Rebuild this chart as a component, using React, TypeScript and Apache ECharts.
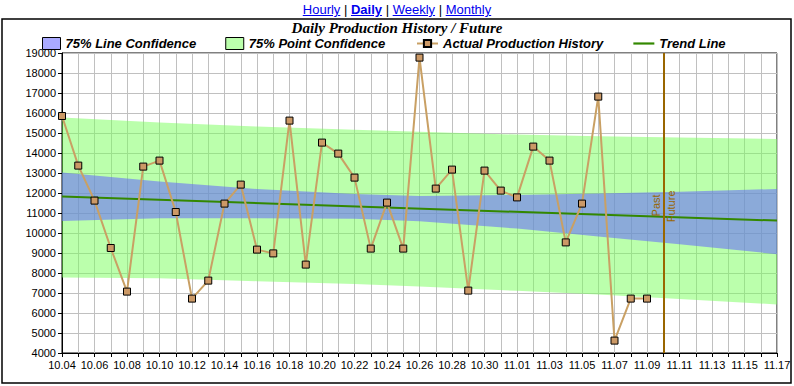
import React, { useEffect, useRef } from 'react';
import * as echarts from 'echarts';

const days = [
  '10.04', '10.05', '10.06', '10.07', '10.08', '10.09', '10.10', '10.11', '10.12', '10.13',
  '10.14', '10.15', '10.16', '10.17', '10.18', '10.19', '10.20', '10.21', '10.22', '10.23',
  '10.24', '10.25', '10.26', '10.27', '10.28', '10.29', '10.30', '10.31', '11.01', '11.02',
  '11.03', '11.04', '11.05', '11.06', '11.07', '11.08', '11.09', '11.10', '11.11', '11.12',
  '11.13', '11.14', '11.15', '11.16', '11.17',
];

const actualProduction = [
  15850, 13370, 11620, 9250, 7070, 13320, 13620, 11050, 6720, 7620,
  11470, 12420, 9170, 8980, 15620, 8420, 14520, 13970, 12770, 9220,
  11520, 9220, 18770, 12220, 13170, 7120, 13120, 12120, 11780, 14320,
  13620, 9530, 11470, 16820, 4620, 6720, 6720,
];

const trendDays = ['10.04', '11.17'];
const trendValues = [11820, 10620];

const bandDays = ['10.04', '10.10', '10.16', '10.22', '10.26', '11.01', '11.06', '11.11', '11.17'];
const lineConfUpper = [13030, 12570, 12200, 11950, 11850, 11900, 11970, 12060, 12200];
const lineConfLower = [10600, 10740, 10740, 10710, 10590, 10220, 9820, 9440, 8940];
const pointConfUpper = [15770, 15530, 15320, 15160, 15060, 14920, 14840, 14770, 14700];
const pointConfLower = [7780, 7740, 7590, 7450, 7330, 7110, 6920, 6700, 6430];

const markerDay = '11.10';
const markerLabelValue = 11380;

const yMin = 4000;
const yMax = 19000;
const yStep = 1000;

const SANS = '"Liberation Sans", Arial, sans-serif';
const SERIF = '"Liberation Serif", "Times New Roman", serif';

export default function App() {
  const ref = useRef<HTMLDivElement>(null);

  useEffect(() => {
    const chart = echarts.init(ref.current!, null, { renderer: 'svg' });
    const idx = (d: string) => days.indexOf(d);

    const band = (upper: number[], lower: number[], fill: string) => (_p: any, api: any) => {
      const pts: number[][] = [];
      for (let i = 0; i < bandDays.length; i++) pts.push(api.coord([idx(bandDays[i]), upper[i]]));
      for (let i = bandDays.length - 1; i >= 0; i--) pts.push(api.coord([idx(bandDays[i]), lower[i]]));
      return { type: 'polygon', shape: { points: pts }, style: { fill }, silent: true };
    };

    const greenFill = 'rgba(120,255,90,0.5)';
    const blueFill = 'rgba(100,100,255,0.55)';
    const brown = '#996600';
    const legendText = { fontFamily: SANS, fontSize: 13, fontWeight: 'bold', fontStyle: 'italic', color: '#000' };

    chart.setOption({
      animation: false,
      backgroundColor: '#fff',
      title: {
        text: 'Daily Production History / Future',
        left: 'center',
        top: 20,
        padding: 0,
        textStyle: { fontFamily: SERIF, fontSize: 15, fontWeight: 'bold', fontStyle: 'italic', color: '#000' },
      },
      legend: [
        {
          left: 42,
          top: 37,
          padding: 0,
          itemWidth: 18,
          itemHeight: 12,
          itemGap: 29,
          selectedMode: false,
          textStyle: legendText,
          data: [
            { name: '75% Line Confidence', icon: 'rect', itemStyle: { color: '#aaaaff', borderColor: '#000', borderWidth: 1 } },
            { name: '75% Point Confidence', icon: 'rect', itemStyle: { color: '#bbffac', borderColor: '#000', borderWidth: 1 } },
          ],
        },
        {
          left: 416,
          top: 37,
          padding: 0,
          itemWidth: 21,
          itemHeight: 9,
          itemGap: 30,
          selectedMode: false,
          textStyle: legendText,
          data: [
            { name: 'Actual Production History' },
            { name: 'Trend Line', icon: 'path://M0 0 H21 V2.2 H0 Z' },
          ],
        },
      ],
      grid: {
        left: 62,
        right: 17,
        top: 53,
        bottom: 33,
        show: true,
        borderColor: '#000',
        borderWidth: 1,
        backgroundColor: 'transparent',
      },
      xAxis: {
        type: 'category',
        data: days,
        boundaryGap: false,
        axisLine: { lineStyle: { color: '#000', width: 1 } },
        axisTick: { show: true, interval: 0, length: 4, lineStyle: { color: '#000' } },
        axisLabel: { interval: 1, margin: 6, color: '#000', fontFamily: SANS, fontSize: 11 },
        splitLine: { show: true, interval: 0, lineStyle: { color: '#c0c0c0', width: 1 } },
      },
      yAxis: {
        type: 'value',
        min: yMin,
        max: yMax,
        interval: yStep,
        axisLine: { show: true, lineStyle: { color: '#000', width: 1 } },
        axisTick: { show: true, length: 4, lineStyle: { color: '#000' } },
        axisLabel: {
          margin: 6,
          color: '#000',
          fontFamily: SANS,
          fontSize: 11,
          formatter: (v: number) => String(v),
        },
        splitLine: { show: true, lineStyle: { color: '#c0c0c0', width: 1 } },
      },
      graphic: [
        {
          type: 'rect',
          silent: true,
          shape: { x: 2, y: 19, width: 789, height: 364 },
          style: { fill: 'none', stroke: '#000', lineWidth: 1.5 },
        },
      ],
      series: [
        {
          name: '75% Point Confidence',
          type: 'custom',
          data: [[0, 10000]],
          itemStyle: { color: '#bbffac' },
          renderItem: band(pointConfUpper, pointConfLower, greenFill),
          silent: true,
          z: 1,
        },
        {
          name: '75% Line Confidence',
          type: 'custom',
          data: [[0, 10000]],
          itemStyle: { color: '#aaaaff' },
          renderItem: band(lineConfUpper, lineConfLower, blueFill),
          silent: true,
          z: 2,
        },
        {
          name: 'Trend Line',
          type: 'line',
          data: trendDays.map((d, i) => [d, trendValues[i]]),
          symbol: 'none',
          lineStyle: { color: '#338800', width: 2 },
          itemStyle: { color: '#338800' },
          silent: true,
          z: 3,
          markLine: {
            silent: true,
            symbol: ['none', 'none'],
            label: { show: false },
            lineStyle: { color: brown, width: 2, type: 'solid' },
            data: [{ xAxis: markerDay }],
          },
        },
        {
          name: 'Actual Production History',
          type: 'line',
          data: actualProduction,
          symbol: 'rect',
          symbolSize: 7,
          showAllSymbol: true,
          lineStyle: { color: '#c9a064', width: 2 },
          itemStyle: { color: '#cc9966', borderColor: '#000', borderWidth: 1 },
          silent: true,
          z: 4,
        },
        {
          name: 'marker labels',
          type: 'custom',
          data: [[idx(markerDay), markerLabelValue]],
          silent: true,
          z: 5,
          renderItem: (_p: any, api: any) => {
            const p = api.coord([api.value(0), api.value(1)]);
            const st = (text: string) => ({
              text,
              fill: brown,
              font: `11px ${SANS}`,
              align: 'center',
              verticalAlign: 'middle',
            });
            return {
              type: 'group',
              children: [
                { type: 'text', x: p[0] - 7, y: p[1], rotation: Math.PI / 2, style: st('Past') },
                { type: 'text', x: p[0] + 8, y: p[1] + 1, rotation: Math.PI / 2, style: st('Future') },
              ],
            };
          },
        },
      ],
    });

    return () => chart.dispose();
  }, []);

  const linkStyle: React.CSSProperties = { color: '#0000ee', textDecoration: 'underline' };

  return (
    <div style={{ position: 'absolute', left: 0, top: 0, width: 794, height: 386, background: '#fff' }}>
      <div ref={ref} style={{ position: 'absolute', left: 0, top: 0, width: 794, height: 386 }} />
      <div
        style={{
          position: 'absolute',
          left: 0,
          top: 2,
          width: 794,
          textAlign: 'center',
          fontFamily: SANS,
          fontSize: 13,
          lineHeight: '15px',
          color: '#000',
          zIndex: 2,
        }}
      >
        <a href="#" style={linkStyle}>Hourly</a> | <a href="#" style={{ ...linkStyle, fontWeight: 'bold' }}>Daily</a> |{' '}
        <a href="#" style={linkStyle}>Weekly</a> | <a href="#" style={linkStyle}>Monthly</a>
      </div>
    </div>
  );
}
